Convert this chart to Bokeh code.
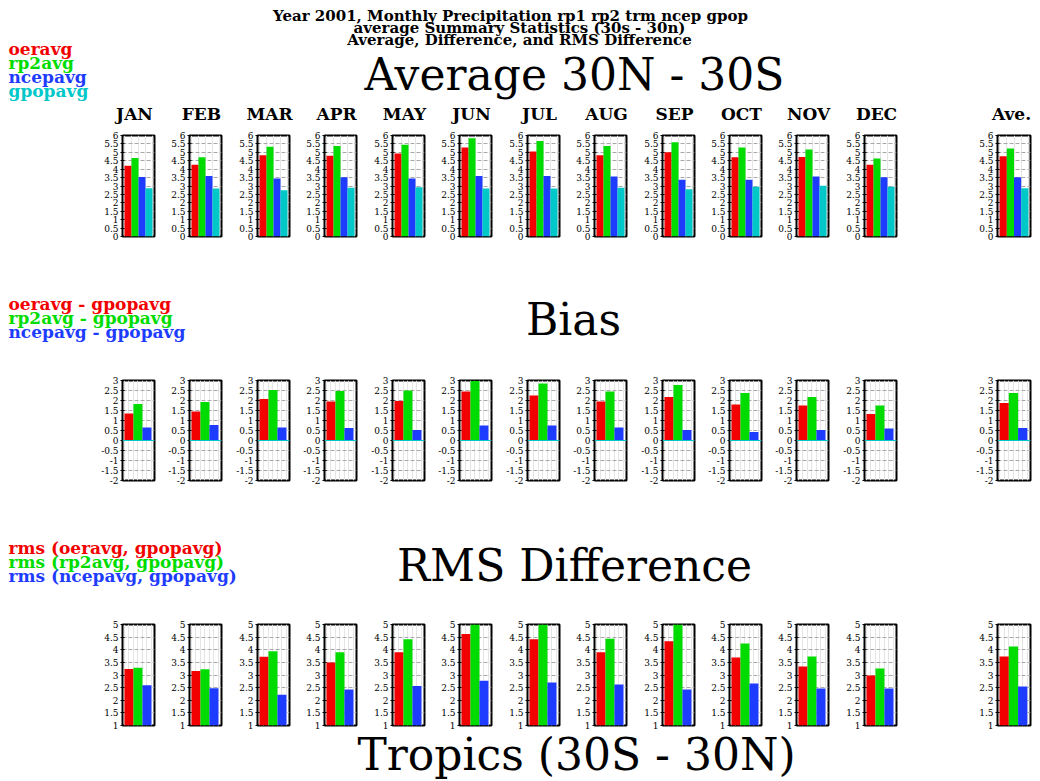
from bokeh.plotting import figure
from bokeh.layouts import column, row
from bokeh.models import (Range1d, Spacer, SingleIntervalTicker, CustomJSTickFormatter,
                          Span, ColumnDataSource)
from bokeh.core.properties import value
from bokeh.embed import file_html
from bokeh.resources import INLINE

# ---------------- data ----------------
PANELS = ["JAN", "FEB", "MAR", "APR", "MAY", "JUN", "JUL", "AUG", "SEP", "OCT", "NOV", "DEC", "Ave."]

avg_oer = [4.20, 4.26, 4.83, 4.79, 4.93, 5.29, 5.05, 4.83, 5.01, 4.71, 4.73, 4.26, 4.77]
avg_rp2 = [4.67, 4.71, 5.33, 5.37, 5.45, 5.84, 5.68, 5.37, 5.60, 5.29, 5.17, 4.63, 5.23]
avg_ncep = [3.54, 3.60, 3.45, 3.52, 3.45, 3.60, 3.60, 3.56, 3.37, 3.37, 3.56, 3.52, 3.52]
avg_gpop = [2.87, 2.85, 2.75, 2.89, 2.93, 2.85, 2.85, 2.89, 2.81, 2.95, 3.01, 2.95, 2.87]

bias_oer = [1.35, 1.45, 2.08, 1.95, 1.98, 2.45, 2.25, 1.95, 2.18, 1.80, 1.75, 1.33, 1.88]
bias_rp2 = [1.82, 1.92, 2.53, 2.47, 2.50, 2.97, 2.85, 2.45, 2.78, 2.38, 2.18, 1.75, 2.38]
bias_ncep = [0.65, 0.77, 0.65, 0.62, 0.53, 0.75, 0.75, 0.65, 0.53, 0.43, 0.53, 0.60, 0.62]

rms_oer = [3.24, 3.16, 3.72, 3.50, 3.90, 4.62, 4.42, 3.90, 4.34, 3.69, 3.34, 2.98, 3.73]
rms_rp2 = [3.29, 3.23, 3.94, 3.90, 4.42, 5.15, 5.10, 4.44, 5.10, 4.25, 3.73, 3.26, 4.13]
rms_ncep = [2.59, 2.48, 2.22, 2.43, 2.56, 2.77, 2.70, 2.62, 2.43, 2.66, 2.47, 2.47, 2.54]

TITLE_LINES = ["Year 2001, Monthly Precipitation rp1 rp2 trm ncep gpop",
               "average Summary Statistics (30s - 30n)",
               "Average, Difference, and RMS Difference"]
LEGEND_AVG = ["oeravg", "rp2avg", "ncepavg", "gpopavg"]
LEGEND_BIAS = ["oeravg - gpopavg", "rp2avg - gpopavg", "ncepavg - gpopavg"]
LEGEND_RMS = ["rms (oeravg, gpopavg)", "rms (rp2avg, gpopavg)", "rms (ncepavg, gpopavg)"]
HEAD_AVG = "Average 30N - 30S"
HEAD_BIAS = "Bias"
HEAD_RMS = "RMS Difference"
FOOTER = "Tropics (30S - 30N)"

RED, GREEN, BLUE, CYAN = "#F20000", "#00DC00", "#1E3CFF", "#00C8C8"
COLORS4 = [RED, GREEN, BLUE, CYAN]
COLORS3 = [RED, GREEN, BLUE]

# ---------------- layout constants ----------------
W = 1036
FRAME_LEFT = [round(122 + 67.45 * i) for i in range(12)]
LB = 24          # left border for axis labels
FW = 32          # frame width
AVE_LEFT = 997
AVE_FW = 33
SERIF = "DejaVu Serif"


def header(height, texts):
    p = figure(width=W, height=height, x_range=Range1d(0, W), y_range=Range1d(height, 0),
               x_axis_location=None, y_axis_location=None, toolbar_location=None,
               output_backend="svg", min_border=0)
    p.outline_line_color = None
    p.xgrid.visible = False
    p.ygrid.visible = False
    for t in texts:
        src = ColumnDataSource(dict(x=t["x"], y=t["y"], text=t["text"], color=t["color"]))
        p.text(x="x", y="y", text="text", text_color="color", source=src,
               text_font=value(SERIF), text_font_style=t.get("style", "bold"),
               text_font_size=t["size"], text_align=t["align"], text_baseline="middle")
    return p


def panel(vals, colors, yr, xr, base, width, rb, frame_h, zero_line=False):
    p = figure(width=width, height=frame_h + 10, x_range=Range1d(*xr), y_range=Range1d(*yr),
               x_axis_location=None, toolbar_location=None, output_backend="svg",
               min_border_left=LB, min_border_right=rb, min_border_top=5, min_border_bottom=5)
    src = ColumnDataSource(dict(x=[i + 0.5 for i in range(len(vals))], top=vals, color=colors))
    p.vbar(x="x", top="top", bottom=base, width=1.0, fill_color="color", line_color=None, source=src)
    if zero_line:
        p.add_layout(Span(location=0, dimension="width", line_color=CYAN, line_width=1))
    p.outline_line_color = "black"
    p.outline_line_width = 2
    ax = p.yaxis[0]
    ax.ticker = SingleIntervalTicker(interval=0.5, num_minor_ticks=0)
    ax.formatter = CustomJSTickFormatter(code="return tick.toString()")
    ax.major_label_text_font = SERIF
    ax.major_label_text_font_size = "9px"
    ax.major_label_text_color = "black"
    ax.major_label_standoff = 2
    ax.major_tick_out = 2
    ax.major_tick_in = 2
    ax.minor_tick_out = 0
    ax.minor_tick_in = 0
    ax.axis_line_color = "black"
    ax.axis_line_width = 1
    p.ygrid.ticker = SingleIntervalTicker(interval=0.5, num_minor_ticks=0)
    p.ygrid.grid_line_color = "#a8a8a8"
    p.ygrid.grid_line_dash = "4 2"
    p.ygrid.grid_line_width = 1
    return p


def panel_row(series, colors, yr, xr, base, frame_h, zero_line=False):
    h = frame_h + 10
    kids = [Spacer(width=FRAME_LEFT[0] - LB, height=h)]
    for i in range(12):
        vals = [s[i] for s in series]
        w = FRAME_LEFT[i + 1] - FRAME_LEFT[i] if i < 11 else 67
        kids.append(panel(vals, colors, yr, xr, base, w, w - LB - FW, frame_h, zero_line))
    dec_end = FRAME_LEFT[11] - LB + 67
    kids.append(Spacer(width=AVE_LEFT - LB - dec_end, height=h))
    vals = [s[12] for s in series]
    aw = W - (AVE_LEFT - LB)
    kids.append(panel(vals, colors, yr, xr, base, aw, aw - LB - AVE_FW, frame_h, zero_line))
    return row(*kids, spacing=0)


# ---------------- headers ----------------
hA = 130
month_x = [fl + 12 for fl in FRAME_LEFT] + [AVE_LEFT + 14]
headA = header(hA, [
    dict(x=[510, 519, 519], y=[15, 27, 39], text=TITLE_LINES, color=["black"] * 3,
         size="15px", align="center"),
    dict(x=[8] * 4, y=[48, 62, 76, 90], text=LEGEND_AVG, color=COLORS4,
         size="17px", align="left"),
    dict(x=[574], y=[74], text=[HEAD_AVG], color=["black"], size="44px",
         align="center", style="normal"),
    dict(x=month_x, y=[113] * 13, text=PANELS, color=["black"] * 13,
         size="17px", align="center"),
])

hB = 134
headB = header(hB, [
    dict(x=[8] * 3, y=[62, 76, 90], text=LEGEND_BIAS, color=COLORS3,
         size="17px", align="left"),
    dict(x=[573], y=[78], text=[HEAD_BIAS], color=["black"], size="44px",
         align="center", style="normal"),
])

hC = 134
headC = header(hC, [
    dict(x=[8] * 3, y=[62, 76, 90], text=LEGEND_RMS, color=COLORS3,
         size="17px", align="left"),
    dict(x=[574], y=[80], text=[HEAD_RMS], color=["black"], size="44px",
         align="center", style="normal"),
])

hF = 51
foot = header(hF, [
    dict(x=[576], y=[24], text=[FOOTER], color=["black"], size="44px",
         align="center", style="normal"),
])

row1 = panel_row([avg_oer, avg_rp2, avg_ncep, avg_gpop], COLORS4, (0, 6), (-0.29, 4.29), 0, 101)
row2 = panel_row([bias_oer, bias_rp2, bias_ncep], COLORS3, (-2, 3), (-0.22, 3.34), 0, 100, True)
row3 = panel_row([rms_oer, rms_rp2, rms_ncep], COLORS3, (1, 5), (-0.22, 3.34), 1, 101)

layout = column(headA, row1, headB, row2, headC, row3, foot, spacing=0)

with open("out.html", "w") as f:
    f.write(file_html(layout, INLINE))
